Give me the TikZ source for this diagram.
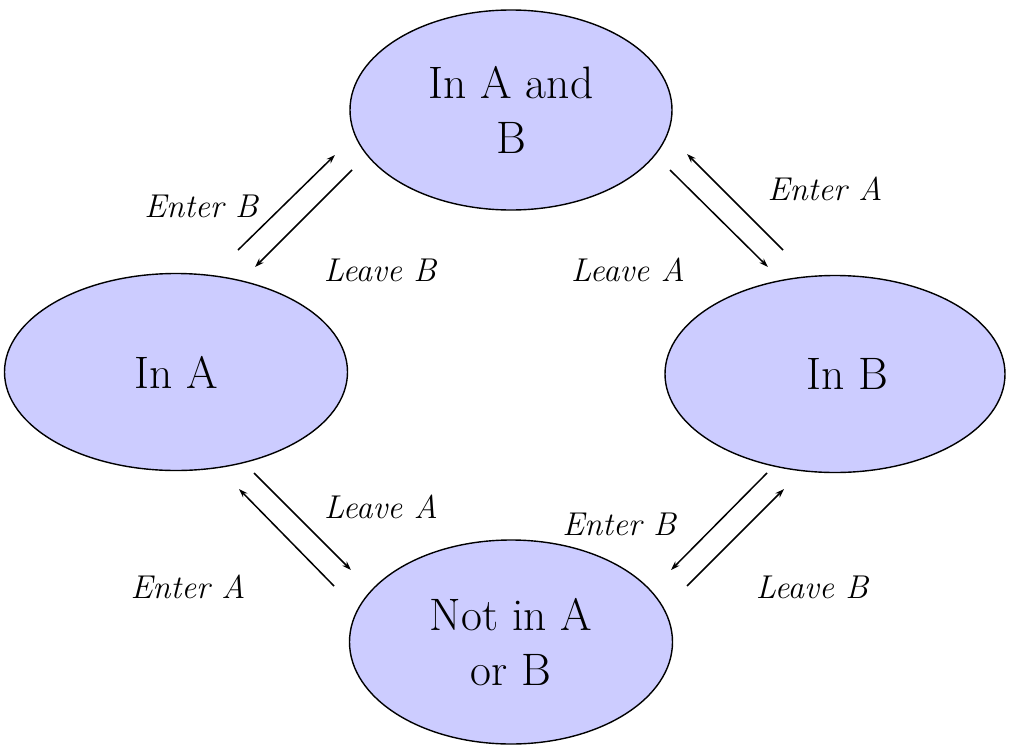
\documentclass[tikz,border=0pt]{standalone}
\usetikzlibrary{arrows.meta,shapes.geometric}
\definecolor{statefill}{RGB}{204,204,255}
\tikzset{
  state/.style={ellipse, draw=black, line width=1.4pt, fill=statefill,
    inner sep=0pt, align=center,
    font=\fontsize{45.5}{55}\selectfont},
  arr/.style={line width=1.5pt, -{Stealth[length=9pt,width=6pt]}},
  lbl/.style={font=\fontsize{33}{38}\selectfont\itshape}
}
\begin{document}
\begin{tikzpicture}[x=1pt,y=-1pt]
\useasboundingbox (0,0) rectangle (1011,744);

% states
\node[state, minimum width=322pt, minimum height=200pt] (ab) at (511,110) {In A and\\B};
\node[state, minimum width=343pt, minimum height=197pt] (a)  at (176,372) {In A};
\node[state, minimum width=340pt, minimum height=197pt] (b)  at (835,374) {\hspace*{24pt}In B};
\node[state, minimum width=323pt, minimum height=204pt] (n)  at (511,642) {Not in A\\or B};

% arrow end points
\coordinate (e1s) at (238,250); \coordinate (e1t) at (335,155);
\coordinate (l1s) at (352,170); \coordinate (l1t) at (255,267);
\coordinate (e2s) at (783,250); \coordinate (e2t) at (687,154);
\coordinate (l2s) at (670,170); \coordinate (l2t) at (768,267);
\coordinate (l3s) at (254,473); \coordinate (l3t) at (351,570);
\coordinate (e3s) at (334,586); \coordinate (e3t) at (239,489);
\coordinate (e4s) at (767,473); \coordinate (e4t) at (671,570);
\coordinate (l4s) at (687,586); \coordinate (l4t) at (784,489);

% transitions
\draw[arr] (e1s) -- (e1t);
\draw[arr] (l1s) -- (l1t);
\draw[arr] (e2s) -- (e2t);
\draw[arr] (l2s) -- (l2t);
\draw[arr] (l3s) -- (l3t);
\draw[arr] (e3s) -- (e3t);
\draw[arr] (e4s) -- (e4t);
\draw[arr] (l4s) -- (l4t);

% transition labels
\node[lbl] (t1) at (201,206) {Enter B};
\node[lbl] (t2) at (380,270) {Leave B};
\node[lbl] (t3) at (825,189) {Enter A};
\node[lbl] (t4) at (628,270) {Leave A};
\node[lbl] (t5) at (381,507) {Leave A};
\node[lbl] (t6) at (188,587) {Enter A};
\node[lbl] (t7) at (619,524) {Enter B};
\node[lbl] (t8) at (812,587) {Leave B};
\end{tikzpicture}
\end{document}
